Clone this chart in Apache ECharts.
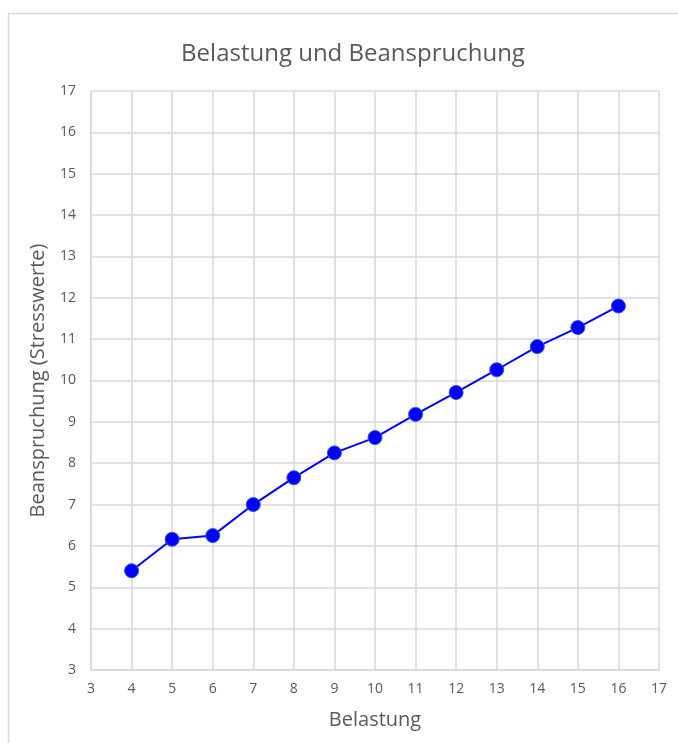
<!DOCTYPE html>
<html>
<head>
<meta charset="utf-8">
<script src="https://cdn.jsdelivr.net/npm/echarts@6/dist/echarts.min.js"></script>
<style>
html,body{margin:0;padding:0;background:#fff;}
#c{width:678px;height:743px;}
</style>
</head>
<body>
<div id="c"></div>
<script>
var titleText = "Belastung und Beanspruchung";
var xName = "Belastung";
var yName = "Beanspruchung (Stresswerte)";
var belastung = [4, 5, 6, 7, 8, 9, 10, 11, 12, 13, 14, 15, 16];
var beanspruchung = [5.40, 6.16, 6.25, 7.00, 7.65, 8.25, 8.62, 9.18, 9.71, 10.26, 10.82, 11.28, 11.80];

var pts = belastung.map(function (x, i) { return [x, beanspruchung[i]]; });
var font = "'Open Sans', 'Noto Sans', sans-serif";
var txt = '#595959';
var chart = echarts.init(document.getElementById('c'));
chart.setOption({
  animation: false,
  backgroundColor: '#fff',
  title: {
    text: titleText, left: 348, textAlign: 'center', top: 37,
    textStyle: { fontFamily: font, fontSize: 24, fontWeight: 'normal', color: txt }
  },
  graphic: [{
    type: 'rect', silent: true,
    shape: { x: 8.5, y: 13.5, width: 720, height: 800 },
    style: { fill: 'none', stroke: '#d9d9d9', lineWidth: 1.5 }
  }],
  grid: { left: 91, right: 19, top: 91, bottom: 73 },
  xAxis: {
    type: 'value', min: 3, max: 17, interval: 1,
    name: xName, nameLocation: 'middle', nameGap: 40,
    nameTextStyle: { fontFamily: font, fontSize: 20, color: txt },
    axisLine: { show: true, lineStyle: { color: '#d9d9d9', width: 1.5 } },
    axisTick: { show: false },
    axisLabel: { fontFamily: font, fontSize: 14, color: txt, margin: 12 },
    splitLine: { show: true, lineStyle: { color: '#d9d9d9', width: 1.5 } }
  },
  yAxis: {
    type: 'value', min: 3, max: 17, interval: 1,
    name: yName, nameLocation: 'middle', nameGap: 43,
    nameTextStyle: { fontFamily: font, fontSize: 20, color: txt },
    axisLine: { show: true, lineStyle: { color: '#d9d9d9', width: 1.5 } },
    axisTick: { show: false },
    axisLabel: { fontFamily: font, fontSize: 14, color: txt, margin: 15 },
    splitLine: { show: true, lineStyle: { color: '#d9d9d9', width: 1.5 } }
  },
  series: [{
    type: 'line', data: pts,
    symbol: 'circle', symbolSize: 14,
    lineStyle: { color: '#0000ff', width: 2 },
    itemStyle: { color: '#0000ff', borderColor: '#2f55d4', borderWidth: 1 }
  }]
});
</script>
</body>
</html>
